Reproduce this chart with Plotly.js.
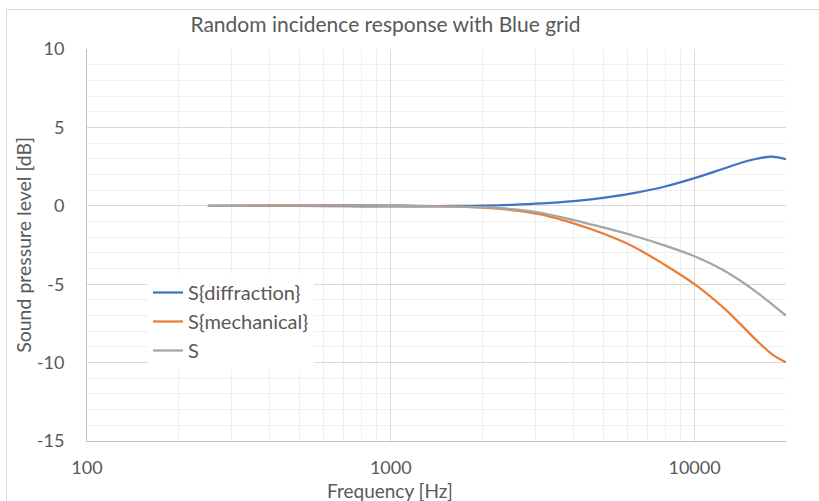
<!DOCTYPE html>
<html>
<head>
<meta charset="utf-8">
<script src="https://cdn.plot.ly/plotly-3.0.1.min.js"></script>
<style>
  html, body { margin: 0; padding: 0; background: #ffffff; overflow: hidden; }
  #chart { width: 819px; height: 501px; position: absolute; left: 0; top: 0; }
  #frame { position: absolute; left: 6px; top: 9px; width: 900px; height: 600px; border: 1px solid #d9d9d9; pointer-events: none; }
</style>
</head>
<body>
<div id="frame"></div>
<div id="chart"></div>
<script>
// Frequencies in Hz
const freq = [250, 315, 400, 500, 630, 800, 1000, 1250, 1600, 2000, 2500, 3150, 4000, 5000, 6300, 8000, 10000, 12500, 14000, 16000, 18000, 20000];
// Levels in dB
const sDiffraction = [0.0, 0.0, 0.0, -0.01, -0.02, -0.03, -0.03, -0.03, -0.01, 0.01, 0.06, 0.15, 0.30, 0.51, 0.81, 1.23, 1.76, 2.38, 2.70, 3.00, 3.13, 2.97];
const sMechanical = [0.0, 0.01, 0.02, 0.03, 0.04, 0.04, 0.03, 0.0, -0.05, -0.12, -0.27, -0.56, -1.12, -1.77, -2.61, -3.78, -5.00, -6.53, -7.45, -8.58, -9.47, -9.98];
const sTotal = [0.0, 0.0, 0.01, 0.01, 0.01, 0.01, 0.0, -0.02, -0.05, -0.10, -0.21, -0.46, -0.91, -1.38, -1.91, -2.54, -3.22, -4.12, -4.72, -5.51, -6.28, -7.0];

const seriesNames = ['S{diffraction}', 'S{mechanical}', 'S'];
const xTickVals = [100, 1000, 10000];
const xTickText = ['100', '1000', '10000'];
const yTickVals = [-15, -10, -5, 0, 5, 10];
const yTickText = ['-15', '-10', '-5', '0', '5', '10'];
const xTitle = 'Frequency [Hz]';
const yTitle = 'Sound pressure level [dB]';
const chartTitle = 'Random incidence response with Blue grid';

const colors = ['#4472C4', '#ED7D31', '#A5A5A5'];
const ys = [sDiffraction, sMechanical, sTotal];

const traces = ys.map((y, i) => ({
  x: freq, y: y, type: 'scatter', mode: 'lines', name: seriesNames[i],
  legendgroup: 'g' + i,
  line: { color: colors[i], width: 2.25, shape: 'spline', smoothing: 1 },
  hoverinfo: 'skip'
}));

const textColor = '#595959';
const fontFam = 'Lato, "Open Sans", sans-serif';

const layout = {
  width: 819, height: 501,
  paper_bgcolor: 'rgba(0,0,0,0)', plot_bgcolor: '#ffffff',
  margin: { l: 87, r: 33, t: 49, b: 60, pad: 0 },
  font: { family: fontFam, color: textColor, size: 18 },
  title: {
    text: chartTitle,
    font: { family: fontFam, size: 21, color: textColor },
    xref: 'container', yref: 'container', x: 385.5 / 819, xanchor: 'center', y: 1 - 25 / 501, yanchor: 'middle'
  },
  xaxis: {
    type: 'log', range: [2, Math.log10(20000)],
    tickvals: xTickVals, ticktext: xTickText,
    showgrid: true, gridcolor: '#d9d9d9', gridwidth: 1,
    minor: { dtick: 'D1', showgrid: true, gridcolor: '#efefef', gridwidth: 1, ticks: '' },
    showline: true, linecolor: '#bfbfbf', linewidth: 1,
    ticks: '', ticklabelstandoff: 10,
    tickfont: { family: fontFam, size: 18, color: textColor },
    zeroline: false, fixedrange: true
  },
  yaxis: {
    range: [-15, 10], tickvals: yTickVals, ticktext: yTickText,
    showgrid: true, gridcolor: '#d9d9d9', gridwidth: 1,
    minor: { dtick: 1, showgrid: true, gridcolor: '#efefef', gridwidth: 1, ticks: '' },
    showline: true, linecolor: '#bfbfbf', linewidth: 1,
    ticks: '', ticklabelstandoff: 18,
    tickfont: { family: fontFam, size: 18, color: textColor },
    title: { text: yTitle, font: { family: fontFam, size: 19.5, color: textColor } },
    zeroline: true, zerolinecolor: '#d9d9d9', zerolinewidth: 1, fixedrange: true
  },
  annotations: [{
    text: xTitle, xref: 'paper', yref: 'paper',
    x: (390 - 87) / 699, y: (441 - 490) / 392, xanchor: 'center', yanchor: 'middle',
    showarrow: false, font: { family: fontFam, size: 19, color: textColor }
  }],
  showlegend: true,
  legend: {
    x: (148 - 87) / 699, xanchor: 'left', y: (441 - 273) / 392, yanchor: 'top',
    bgcolor: '#ffffff', borderwidth: 0,
    font: { family: fontFam, size: 20, color: textColor },
    tracegroupgap: 6, traceorder: 'normal'
  }
};

Plotly.newPlot('chart', traces, layout, { displayModeBar: false, staticPlot: true });
</script>
</body>
</html>
